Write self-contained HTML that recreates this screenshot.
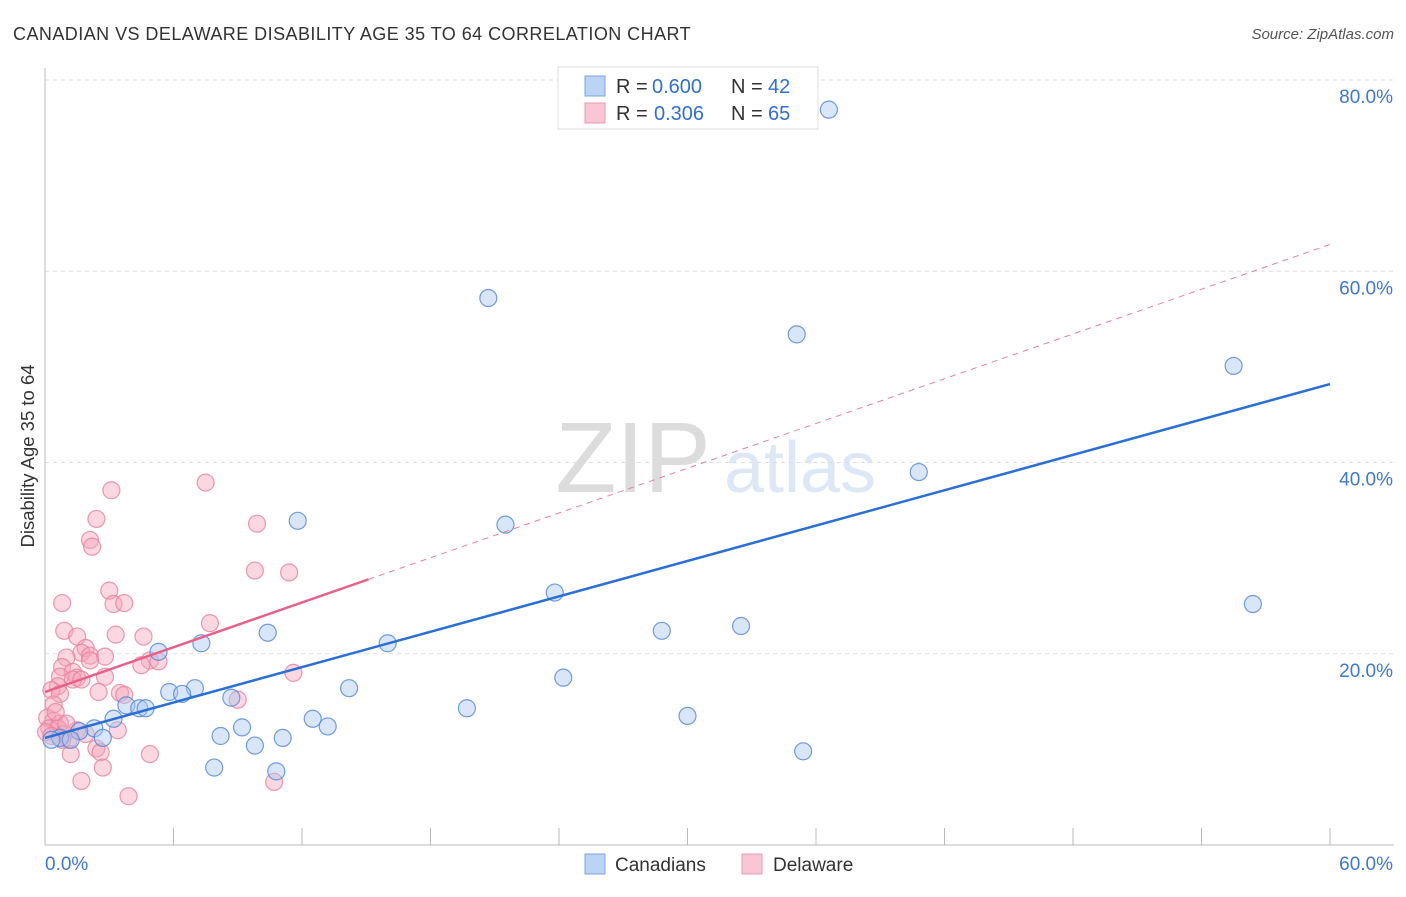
<!DOCTYPE html>
<html><head><meta charset="utf-8">
<style>
body{margin:0;background:#fff;font-family:"Liberation Sans",sans-serif;}
svg text{font-family:"Liberation Sans",sans-serif;}
</style></head>
<body>
<svg id="chart" width="1406" height="892" xmlns="http://www.w3.org/2000/svg">
<text x="13" y="40" font-size="18" fill="#333" letter-spacing="0.45">CANADIAN VS DELAWARE DISABILITY AGE 35 TO 64 CORRELATION CHART</text>
<text x="1394" y="39" font-size="15" fill="#555" text-anchor="end" font-style="italic">Source: ZipAtlas.com</text>
<text transform="translate(34,456) rotate(-90)" font-size="18.5" fill="#333" text-anchor="middle">Disability Age 35 to 64</text>
<g>
<text x="633" y="492" font-size="100" fill="#dcdcdc" text-anchor="middle" font-family="Liberation Serif,serif">ZIP</text>
<text x="800" y="492" font-size="72" fill="#dce8f6" text-anchor="middle">atlas</text>
</g>
<g id="grid"></g>
<g id="axes"></g>
<g id="pts"></g>
<g id="trend"></g>
<g>
<rect x="558" y="67" width="260" height="62" fill="#fff" stroke="#ddd"/>
<rect x="585" y="76" width="20" height="20" fill="#bcd4f4" stroke="#7aa4e0"/>
<text x="616" y="93" font-size="20" fill="#333">R =</text>
<text x="652" y="93" font-size="20" fill="#2f6fd6">0.600</text>
<text x="731" y="93" font-size="20" fill="#333">N =</text>
<text x="768" y="93" font-size="20" fill="#2f6fd6">42</text>
<rect x="585" y="103" width="20" height="20" fill="#f8c6d4" stroke="#eb9ab2"/>
<text x="616" y="120" font-size="20" fill="#333">R =</text>
<text x="654" y="120" font-size="20" fill="#2f6fd6">0.306</text>
<text x="731" y="120" font-size="20" fill="#333">N =</text>
<text x="768" y="120" font-size="20" fill="#2f6fd6">65</text>
</g>
<g>
<rect x="585" y="854" width="20" height="20" fill="#bcd4f4" stroke="#7aa4e0"/>
<text x="615" y="871" font-size="19" fill="#333">Canadians</text>
<rect x="742" y="854" width="20" height="20" fill="#f8c6d4" stroke="#eb9ab2"/>
<text x="773" y="871" font-size="19" fill="#333">Delaware</text>
</g>
</svg>
<script>
const blueX=[36.6,20.7,35.1,55.5,40.8,11.8,21.5,23.8,56.4,28.8,32.5,10.4,16.0,7.3,5.3,24.2,14.2,7.0,5.8,6.4,8.7,19.7,3.8,4.4,4.7,30.0,12.5,3.2,13.2,9.2,2.3,1.6,8.2,2.7,11.1,0.7,0.3,9.8,35.4,7.9,10.8,1.2];
const blueY=[76.9,57.2,53.4,50.1,39.0,33.9,33.5,26.4,25.2,22.4,22.9,22.2,21.1,21.1,20.2,17.5,16.4,16.4,16.0,15.8,15.4,14.3,14.6,14.3,14.3,13.5,13.2,13.2,12.4,12.3,12.2,11.9,11.4,11.2,11.2,11.2,11.0,10.4,9.8,8.1,7.7,11.0];
const pinkX=[7.5,3.1,2.4,9.9,2.1,2.2,9.8,11.4,3.0,0.8,3.2,3.7,7.7,0.9,3.3,4.6,1.5,1.9,1.7,2.1,2.8,1.0,4.9,5.3,2.1,0.8,4.5,1.3,11.6,0.7,2.8,1.5,1.3,1.7,0.6,0.3,2.5,3.5,3.7,0.7,9.0,0.4,0.1,0.4,0.7,0.2,0.6,0.05,1.5,0.9,1.9,3.4,0.3,1.1,2.4,2.6,4.9,1.2,2.7,1.7,10.7,3.9,0.8,1.0,0.5];
const pinkY=[37.9,37.1,34.1,33.6,31.9,31.2,28.7,28.5,26.6,25.3,25.2,25.3,23.2,22.4,22.0,21.8,21.8,20.6,20.1,19.8,19.7,19.6,19.3,19.2,19.3,18.6,18.8,18.1,18.0,17.6,17.6,17.5,17.3,17.3,16.6,16.2,16.0,15.9,15.7,15.8,15.2,14.7,13.3,13.0,12.7,12.2,12.2,11.8,12.0,11.6,11.6,12.0,11.4,11.0,10.1,9.7,9.5,9.5,8.1,6.7,6.6,5.1,11.0,12.7,13.9];
const yTicks=[20,40,60,80];
const xTickLabels=["0.0%","60.0%"];
const blueTrend=[11.2,48.2];
const pinkTrend=[16.0,62.8];
const pinkSolidEnd=15.1;

const NS="http://www.w3.org/2000/svg";
const X=v=>45+v/60*1285;
const Y=v=>845-v*9.5625;
function mk(tag,attrs,parent){const e=document.createElementNS(NS,tag);for(const k in attrs)e.setAttribute(k,attrs[k]);parent.appendChild(e);return e;}
const grid=document.getElementById('grid'),axes=document.getElementById('axes'),trend=document.getElementById('trend'),pts=document.getElementById('pts');
yTicks.forEach(t=>{
 const l=mk('line',{x1:45,x2:1394,y1:Y(t),y2:Y(t),stroke:'#ddd','stroke-dasharray':'4,4'},grid);
 
 
 const tx=mk('text',{x:1393,y:Y(t)+23,'font-size':19,fill:'#3d78d8','text-anchor':'end'},grid);
 tx.textContent=t.toFixed(1)+'%';
 
 
});
const xa=mk('line',{x1:45,x2:1394,y1:845,y2:845,stroke:'#bbb'},axes);


const ya=mk('line',{x1:45,x2:45,y1:68,y2:845,stroke:'#bbb'},axes);


for(let i=0;i<=10;i++){
 const tk=mk('line',{x1:X(i*6),x2:X(i*6),y1:828,y2:845,stroke:'#bbb'},axes);
 
 
}
const xl0=mk('text',{x:45,y:870,'font-size':19,fill:'#3d78d8'},axes);xl0.textContent=xTickLabels[0];


const xl1=mk('text',{x:1393,y:870,'font-size':19,fill:'#3d78d8','text-anchor':'end'},axes);xl1.textContent=xTickLabels[1];



const pSlope=(pinkTrend[1]-pinkTrend[0])/60;
const pd=mk('line',{x1:X(pinkSolidEnd),y1:Y(pinkTrend[0]+pSlope*pinkSolidEnd),x2:X(60),y2:Y(pinkTrend[1]),stroke:'#e8809f','stroke-width':1,'stroke-dasharray':'6,5'},trend);



function drawPts(xs,ys,fill,stroke,name){
 xs.forEach((v,i)=>{
  const c=mk('circle',{cx:X(v),cy:Y(ys[i]),r:8.5,fill:fill,'fill-opacity':0.45,stroke:stroke,'stroke-width':1.2,'stroke-opacity':0.8},pts);
  
  
 });
}
drawPts(pinkX,pinkY,'#f4a6bd','#e8809f','delaware-point');
drawPts(blueX,blueY,'#a8c7f0','#4f86d9','canadians-point');

const bl=mk('line',{x1:X(0),y1:Y(blueTrend[0]),x2:X(60),y2:Y(blueTrend[1]),stroke:'#2a6fd6','stroke-width':2.5},trend);


const ps=mk('line',{x1:X(0),y1:Y(pinkTrend[0]),x2:X(pinkSolidEnd),y2:Y(pinkTrend[0]+pSlope*pinkSolidEnd),stroke:'#e8608a','stroke-width':2.5},trend);


</script>
</body></html>
